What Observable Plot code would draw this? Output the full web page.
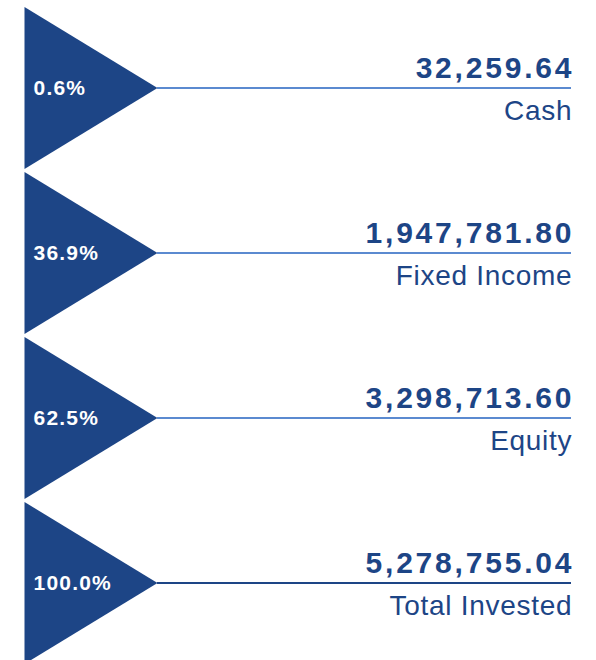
<!DOCTYPE html>
<html>
<head>
<meta charset="utf-8">
<script src="https://cdn.jsdelivr.net/npm/d3@7"></script>
<script src="https://cdn.jsdelivr.net/npm/@observablehq/plot@0.6"></script>
<style>
  html, body { margin: 0; padding: 0; background: #ffffff; }
  #chart svg { display: block; }
</style>
</head>
<body>
<div id="chart"></div>
<script>
// Data
const categories = ["Cash", "Fixed Income", "Equity", "Total Invested"];
const amounts = [32259.64, 1947781.80, 3298713.60, 5278755.04];
const shares = [0.6, 36.9, 62.5, 100.0];
const isTotal = [false, false, false, true];

const rows = categories.map((name, i) => ({
  name,
  amount: amounts[i],
  share: shares[i],
  total: isTotal[i]
}));

const dark = "#1d4586";
const light = "#5b8ad0";
const triW = 133, triH = 162;

// right-pointing triangle symbol
const triangleRight = {
  draw(context) {
    context.moveTo(0, -triH / 2);
    context.lineTo(triW, 0);
    context.lineTo(0, triH / 2);
    context.closePath();
  }
};

const fmtAmount = d3.format(",.2f");
const fmtShare = d => d3.format(".1f")(d) + "%";

const lsShare = 1.2, lsAmount = 2.8, lsName = 0.7;

const chart = Plot.plot({
  width: 596,
  height: 660,
  marginLeft: 24,
  marginRight: 25,
  marginTop: 0,
  marginBottom: 0,
  style: { fontFamily: "'Liberation Sans', Arial, sans-serif", background: "#ffffff" },
  x: { axis: null },
  y: { type: "band", domain: categories, range: [4.5, 664.5], padding: 0, axis: null },
  marks: [
    Plot.dot(rows, { y: "name", frameAnchor: "left", symbol: triangleRight, fill: dark, stroke: null, r: 10 }),
    Plot.ruleY(rows, { y: "name", insetLeft: triW, stroke: d => d.total ? dark : light, strokeWidth: 2 }),
    Plot.text(rows, {
      y: "name", frameAnchor: "left", dx: 9, text: d => fmtShare(d.share),
      textAnchor: "start", lineAnchor: "middle", fill: "white", fontSize: 21, fontWeight: "bold"
    }),
    Plot.text(rows, {
      y: "name", frameAnchor: "right", dx: lsAmount, text: d => fmtAmount(d.amount),
      textAnchor: "end", lineAnchor: "bottom", dy: -10, fill: dark, fontSize: 30, fontWeight: "bold"
    }),
    Plot.text(rows, {
      y: "name", frameAnchor: "right", dx: lsName, text: "name",
      textAnchor: "end", lineAnchor: "top", dy: 12, fill: dark, fontSize: 28
    })
  ]
});

// letter spacing for wider-set type
d3.select(chart).selectAll("g[aria-label=text]").each(function(_, i) {
  const ls = [lsShare, lsAmount, lsName][i];
  d3.select(this).style("letter-spacing", ls + "px");
});

document.getElementById("chart").appendChild(chart);
</script>
</body>
</html>
